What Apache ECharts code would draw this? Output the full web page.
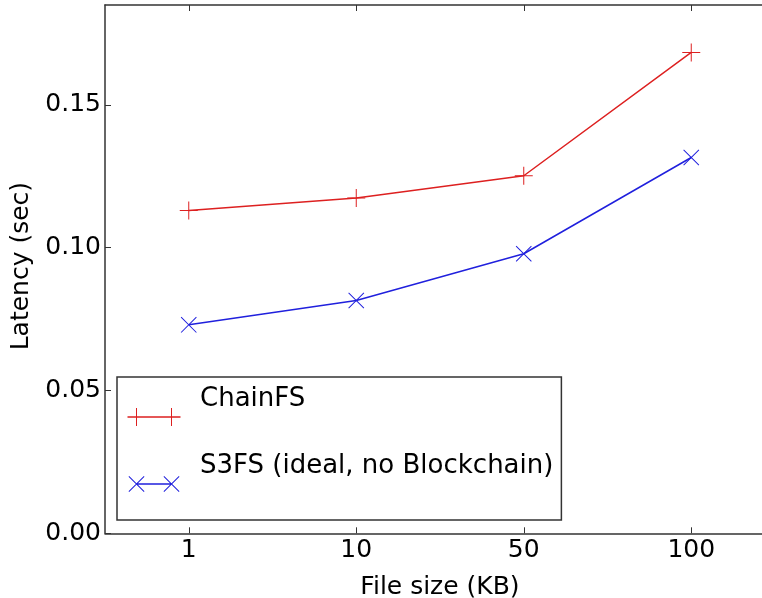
<!DOCTYPE html>
<html>
<head>
<meta charset="utf-8">
<script src="https://cdn.jsdelivr.net/npm/echarts@6/dist/echarts.min.js"></script>
<style>
html,body{margin:0;padding:0;background:#fff;}
#chart{width:762px;height:598px;}
</style>
</head>
<body>
<div id="chart"></div>
<script>
const categories = ['1', '10', '50', '100'];
const chainFS = [0.1130, 0.1174, 0.1252, 0.1684];
const s3fs = [0.0730, 0.0815, 0.0979, 0.1316];
const seriesNames = ['ChainFS', 'S3FS (ideal, no Blockchain)'];
const yMin = 0, yMax = 0.185, yInterval = 0.05;

const FONT = 'DejaVu Sans';
const RED = '#dd2020';
const BLUE = '#2020dd';
const AXIS = '#333333';

const plusSym = 'path://M0,8.5 H18 V9.5 H0 Z M8.5,0 H9.5 V18 H8.5 Z';
const xSym = 'path://M0,0.7 L0.7,0 L16,15.3 L15.3,16 Z M15.3,0 L16,0.7 L0.7,16 L0,15.3 Z';
const legPlus = 'path://M0,0 L0,0 M68,18 L68,18 M0.5,8.25 H53.5 V9.75 H0.5 Z M9,0 H10 V18 H9 Z M44,0 H45 V18 H44 Z';
const legX = 'path://M0,0 L0,0 M68,18 L68,18 M9.5,8.25 H44.5 V9.75 H9.5 Z M1.5,1.7 L2.2,1 L17.5,16.3 L16.8,17 Z M16.8,1 L17.5,1.7 L2.2,17 L1.5,16.3 Z M36.5,1.7 L37.2,1 L52.5,16.3 L51.8,17 Z M51.8,1 L52.5,1.7 L37.2,17 L36.5,16.3 Z';

const chart = echarts.init(document.getElementById('chart'), null, {renderer: 'canvas'});
chart.setOption({
  animation: false,
  backgroundColor: '#fff',
  textStyle: {fontFamily: FONT},
  grid: {left: 105, top: 5, width: 670, bottom: 64.7, containLabel: false, outerBoundsMode: 'none'},
  legend: {
    orient: 'vertical',
    left: 117,
    top: 377,
    itemWidth: 68,
    itemHeight: 18,
    itemGap: -3,
    padding: [5, 8, 1, 10],
    borderColor: AXIS,
    borderWidth: 1.5,
    backgroundColor: '#fff',
    itemStyle: {borderWidth: 0},
    formatter: name => name + '\n ',
    textStyle: {fontFamily: FONT, fontSize: 26, color: '#000', lineHeight: 35},
    data: [
      {name: seriesNames[0], icon: legPlus},
      {name: seriesNames[1], icon: legX}
    ]
  },
  xAxis: [{
    type: 'category',
    data: categories,
    boundaryGap: true,
    position: 'bottom',
    name: 'File size (KB)',
    nameLocation: 'middle',
    nameGap: 42,
    nameTextStyle: {fontFamily: FONT, fontSize: 25, color: '#000'},
    axisLine: {show: true, lineStyle: {color: AXIS, width: 1.5}},
    axisTick: {show: true, inside: true, alignWithLabel: true, length: 6, lineStyle: {color: AXIS, width: 1}},
    axisLabel: {fontFamily: FONT, fontSize: 25, color: '#000', margin: 5},
    splitLine: {show: false}
  }, {
    type: 'category',
    data: categories,
    boundaryGap: true,
    position: 'top',
    axisLine: {show: true, lineStyle: {color: AXIS, width: 1.5}},
    axisTick: {show: true, inside: true, alignWithLabel: true, length: 6, lineStyle: {color: AXIS, width: 1}},
    axisLabel: {show: false},
    splitLine: {show: false}
  }],
  yAxis: {
    type: 'value',
    min: yMin,
    max: yMax,
    interval: yInterval,
    name: 'Latency (sec)',
    nameLocation: 'middle',
    nameGap: 61,
    nameTextStyle: {fontFamily: FONT, fontSize: 25, color: '#000', padding: [0, 0, 0, 6]},
    axisLine: {show: true, lineStyle: {color: AXIS, width: 1.5}},
    axisTick: {show: true, inside: true, length: 6, lineStyle: {color: AXIS, width: 1}},
    axisLabel: {fontFamily: FONT, fontSize: 25, color: '#000', margin: 4, showMaxLabel: false,
      formatter: v => v.toFixed(2)},
    splitLine: {show: false}
  },
  series: [{
    name: seriesNames[0],
    type: 'line',
    data: chainFS,
    symbol: plusSym,
    symbolSize: 18,
    showSymbol: true,
    lineStyle: {color: RED, width: 1.5},
    itemStyle: {color: RED, borderWidth: 0},
    emphasis: {disabled: true}
  }, {
    name: seriesNames[1],
    type: 'line',
    data: s3fs,
    symbol: xSym,
    symbolSize: 16,
    showSymbol: true,
    lineStyle: {color: BLUE, width: 1.5},
    itemStyle: {color: BLUE, borderWidth: 0},
    emphasis: {disabled: true}
  }]
});
</script>
</body>
</html>
